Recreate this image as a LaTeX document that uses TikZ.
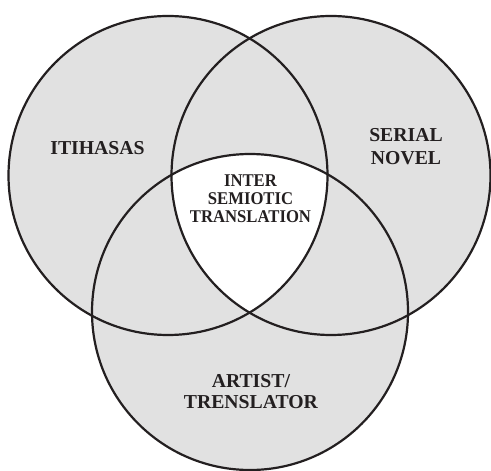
\documentclass[tikz,border=0pt]{standalone}
\usepackage{fontspec}
\setmainfont{Liberation Serif}
\definecolor{setgray}{RGB}{225,225,225}
\definecolor{inkdark}{RGB}{35,31,32}
\tikzset{
  setline/.style={draw=inkdark, line width=2.2bp},
  lbl/.style={text=inkdark, inner sep=0pt, align=center, font=\bfseries\fontsize{19.8}{23.3}\selectfont},
}
\begin{document}
\begin{tikzpicture}[x=1bp,y=-1bp]
\useasboundingbox (0,0) rectangle (491,471);
\coordinate (cl) at (168,175.5);
\coordinate (cr) at (331,175.5);
\coordinate (cb) at (250,312);
\def\rl{159.5}
\def\rb{158}
% gray fill
\fill[setgray] (cl) circle (\rl);
\fill[setgray] (cr) circle (\rl);
\fill[setgray] (cb) circle (\rb);
% white triple intersection
\begin{scope}
  \clip (cl) circle (\rl);
  \clip (cr) circle (\rl);
  \fill[white] (cb) circle (\rb);
\end{scope}
% outlines
\draw[setline] (cl) circle (\rl);
\draw[setline] (cr) circle (\rl);
\draw[setline] (cb) circle (\rb);
% labels
\node[lbl] (itihasas) at (97.5,148.3) {ITIHASAS};
\node[lbl] (serial) at (406,146.7) {SERIAL\\NOVEL};
\node[lbl, font=\bfseries\fontsize{18}{18.3}\selectfont, xscale=0.93] (inter) at (250.5,198.7) {INTER\\SEMIOTIC\\TRANSLATION};
\node[lbl, font=\bfseries\fontsize{19.8}{21.6}\selectfont] (artist) at (250.9,391.8) {ARTIST/\\TRENSLATOR};
\end{tikzpicture}
\end{document}
